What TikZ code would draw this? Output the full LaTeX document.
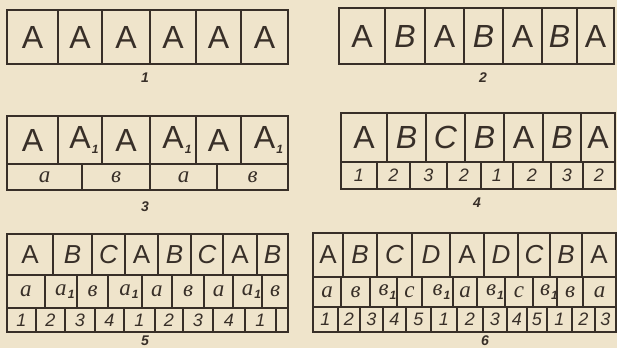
\documentclass[tikz,border=0pt]{standalone}
\usepackage{fontspec}
\setmainfont{Liberation Sans}
\newfontfamily\handfont{Liberation Serif}
\usepackage{xcolor}
\usepackage{tikz}

\definecolor{paper}{RGB}{239,228,203}
\definecolor{ink}{RGB}{56,47,40}

% index 1 hanging to the right of a letter
\newcommand{\idx}{\rlap{\kern0.6pt\raisebox{-0.15em}{\normalfont\itshape\bfseries\fontsize{6}{6}\selectfont 1}}}

% one row of cells: name, top, bottom, text style, list of left/right/text
\newcommand{\cellrow}[5]{%
  \foreach \xa/\xb/\txt [count=\i] in {#5}{%
    \draw [cell] (\xa,#2) rectangle (\xb,#3);
    \node (#1\i) [#4] at ({(\xa+\xb)/2},{(#2+#3)/2}) {\txt};
  }}

\begin{document}
\begin{tikzpicture}[
  x=0.5pt, y=-0.5pt,
  frame/.style={draw=ink, line width=1.2pt},
  cell/.style={draw=ink, line width=0.9pt},
  bigcap/.style={text=ink, inner sep=0pt, font=\fontsize{16}{16}\selectfont},
  smallcap/.style={text=ink, inner sep=0pt, font=\fontsize{13}{13}\selectfont},
  lower/.style={text=ink, inner sep=0pt, font=\handfont\itshape\fontsize{11.5}{11.5}\selectfont},
  digit/.style={text=ink, inner sep=0pt, font=\itshape\fontsize{9}{9}\selectfont},
  numlabel/.style={text=ink, inner sep=0pt, font=\bfseries\itshape\fontsize{7}{7}\selectfont}
]

\fill [paper] (0,0) rectangle (617,348);
\useasboundingbox (0,0) rectangle (617,348);

%% 1
\cellrow{pa}{10}{64}{bigcap}{7/58/A, 58/102/A, 102/150/A, 150/196/A, 196/241/A, 241/288/A}
\draw [frame] (7,10) rectangle (288,64);
\node (la) [numlabel] at (145,78) {1};

%% 2
\cellrow{pb}{8}{64}{bigcap}{339/385/A, 385/425/\textit{B}, 425/464/A, 464/503/\textit{B}, 503/542/A, 542/577/\textit{B}, 577/614/A}
\draw [frame] (339,8) rectangle (614,64);
\node (lb) [numlabel] at (483,78) {2};

%% 3
\cellrow{pc}{116}{164}{bigcap}{7/58/A, 58/102/A\idx, 102/150/A, 150/196/A\idx, 196/241/A, 241/288/A\idx}
\cellrow{qc}{164}{190}{lower}{7/82/а, 82/150/в, 150/217/а, 217/288/в}
\draw [frame] (7,116) rectangle (288,190);
\node (lc) [numlabel] at (145,207) {3};

%% 4
\cellrow{pd}{113}{162}{bigcap}{341/387/A, 387/426/\textit{B}, 426/465/\textit{C}, 465/504/\textit{B}, 504/543/A, 543/581/\textit{B}, 581/615/A}
\cellrow{qd}{162}{189}{digit}{341/377/1, 377/410/2, 410/447/3, 447/481/2, 481/513/1, 513/551/2, 551/583/3, 583/615/2}
\draw [frame] (341,113) rectangle (615,189);
\node (ld) [numlabel] at (477,203) {4};

%% 5
\cellrow{pe}{234}{275}{smallcap}{7/53/A, 53/92/\textit{B}, 92/125/\textit{C}, 125/158/A, 158/191/\textit{B}, 191/223/\textit{C}, 223/257/A, 257/288/\textit{B}}
\cellrow{qe}{275}{308}{lower}{7/45/а, 45/77/а\idx, 77/108/в, 108/142/а\idx, 142/172/а, 172/204/в, 204/233/а, 233/262/а\idx, 262/288/в}
\cellrow{re}{308}{332}{digit}{7/36/1, 36/65/2, 65/95/3, 95/124/4, 124/155/1, 155/183/2, 183/213/3, 213/245/4, 245/276/1, 276/288/{}}
\draw [frame] (7,234) rectangle (288,332);
\node (le) [numlabel] at (145,341) {5};

%% 6
\cellrow{pf}{233}{277}{smallcap}{313/343/A, 343/377/\textit{B}, 377/412/\textit{C}, 412/450/\textit{D}, 450/484/A, 484/518/\textit{D}, 518/550/\textit{C}, 550/582/\textit{B}, 582/616/A}
\cellrow{qf}{277}{307}{lower}{313/341/а, 341/370/в, 370/397/в\idx, 397/422/с, 422/453/в\idx, 453/477/а, 477/505/в\idx, 505/533/с, 533/557/в\idx, 557/583/в, 583/616/а}
\cellrow{rf}{307}{332}{digit}{313/338/1, 338/360/2, 360/383/3, 383/406/4, 406/431/5, 431/457/1, 457/483/2, 483/507/3, 507/527/4, 527/547/5, 547/572/1, 572/595/2, 595/616/3}
\draw [frame] (313,233) rectangle (616,332);
\node (lf) [numlabel] at (485,341) {6};

\end{tikzpicture}
\end{document}
